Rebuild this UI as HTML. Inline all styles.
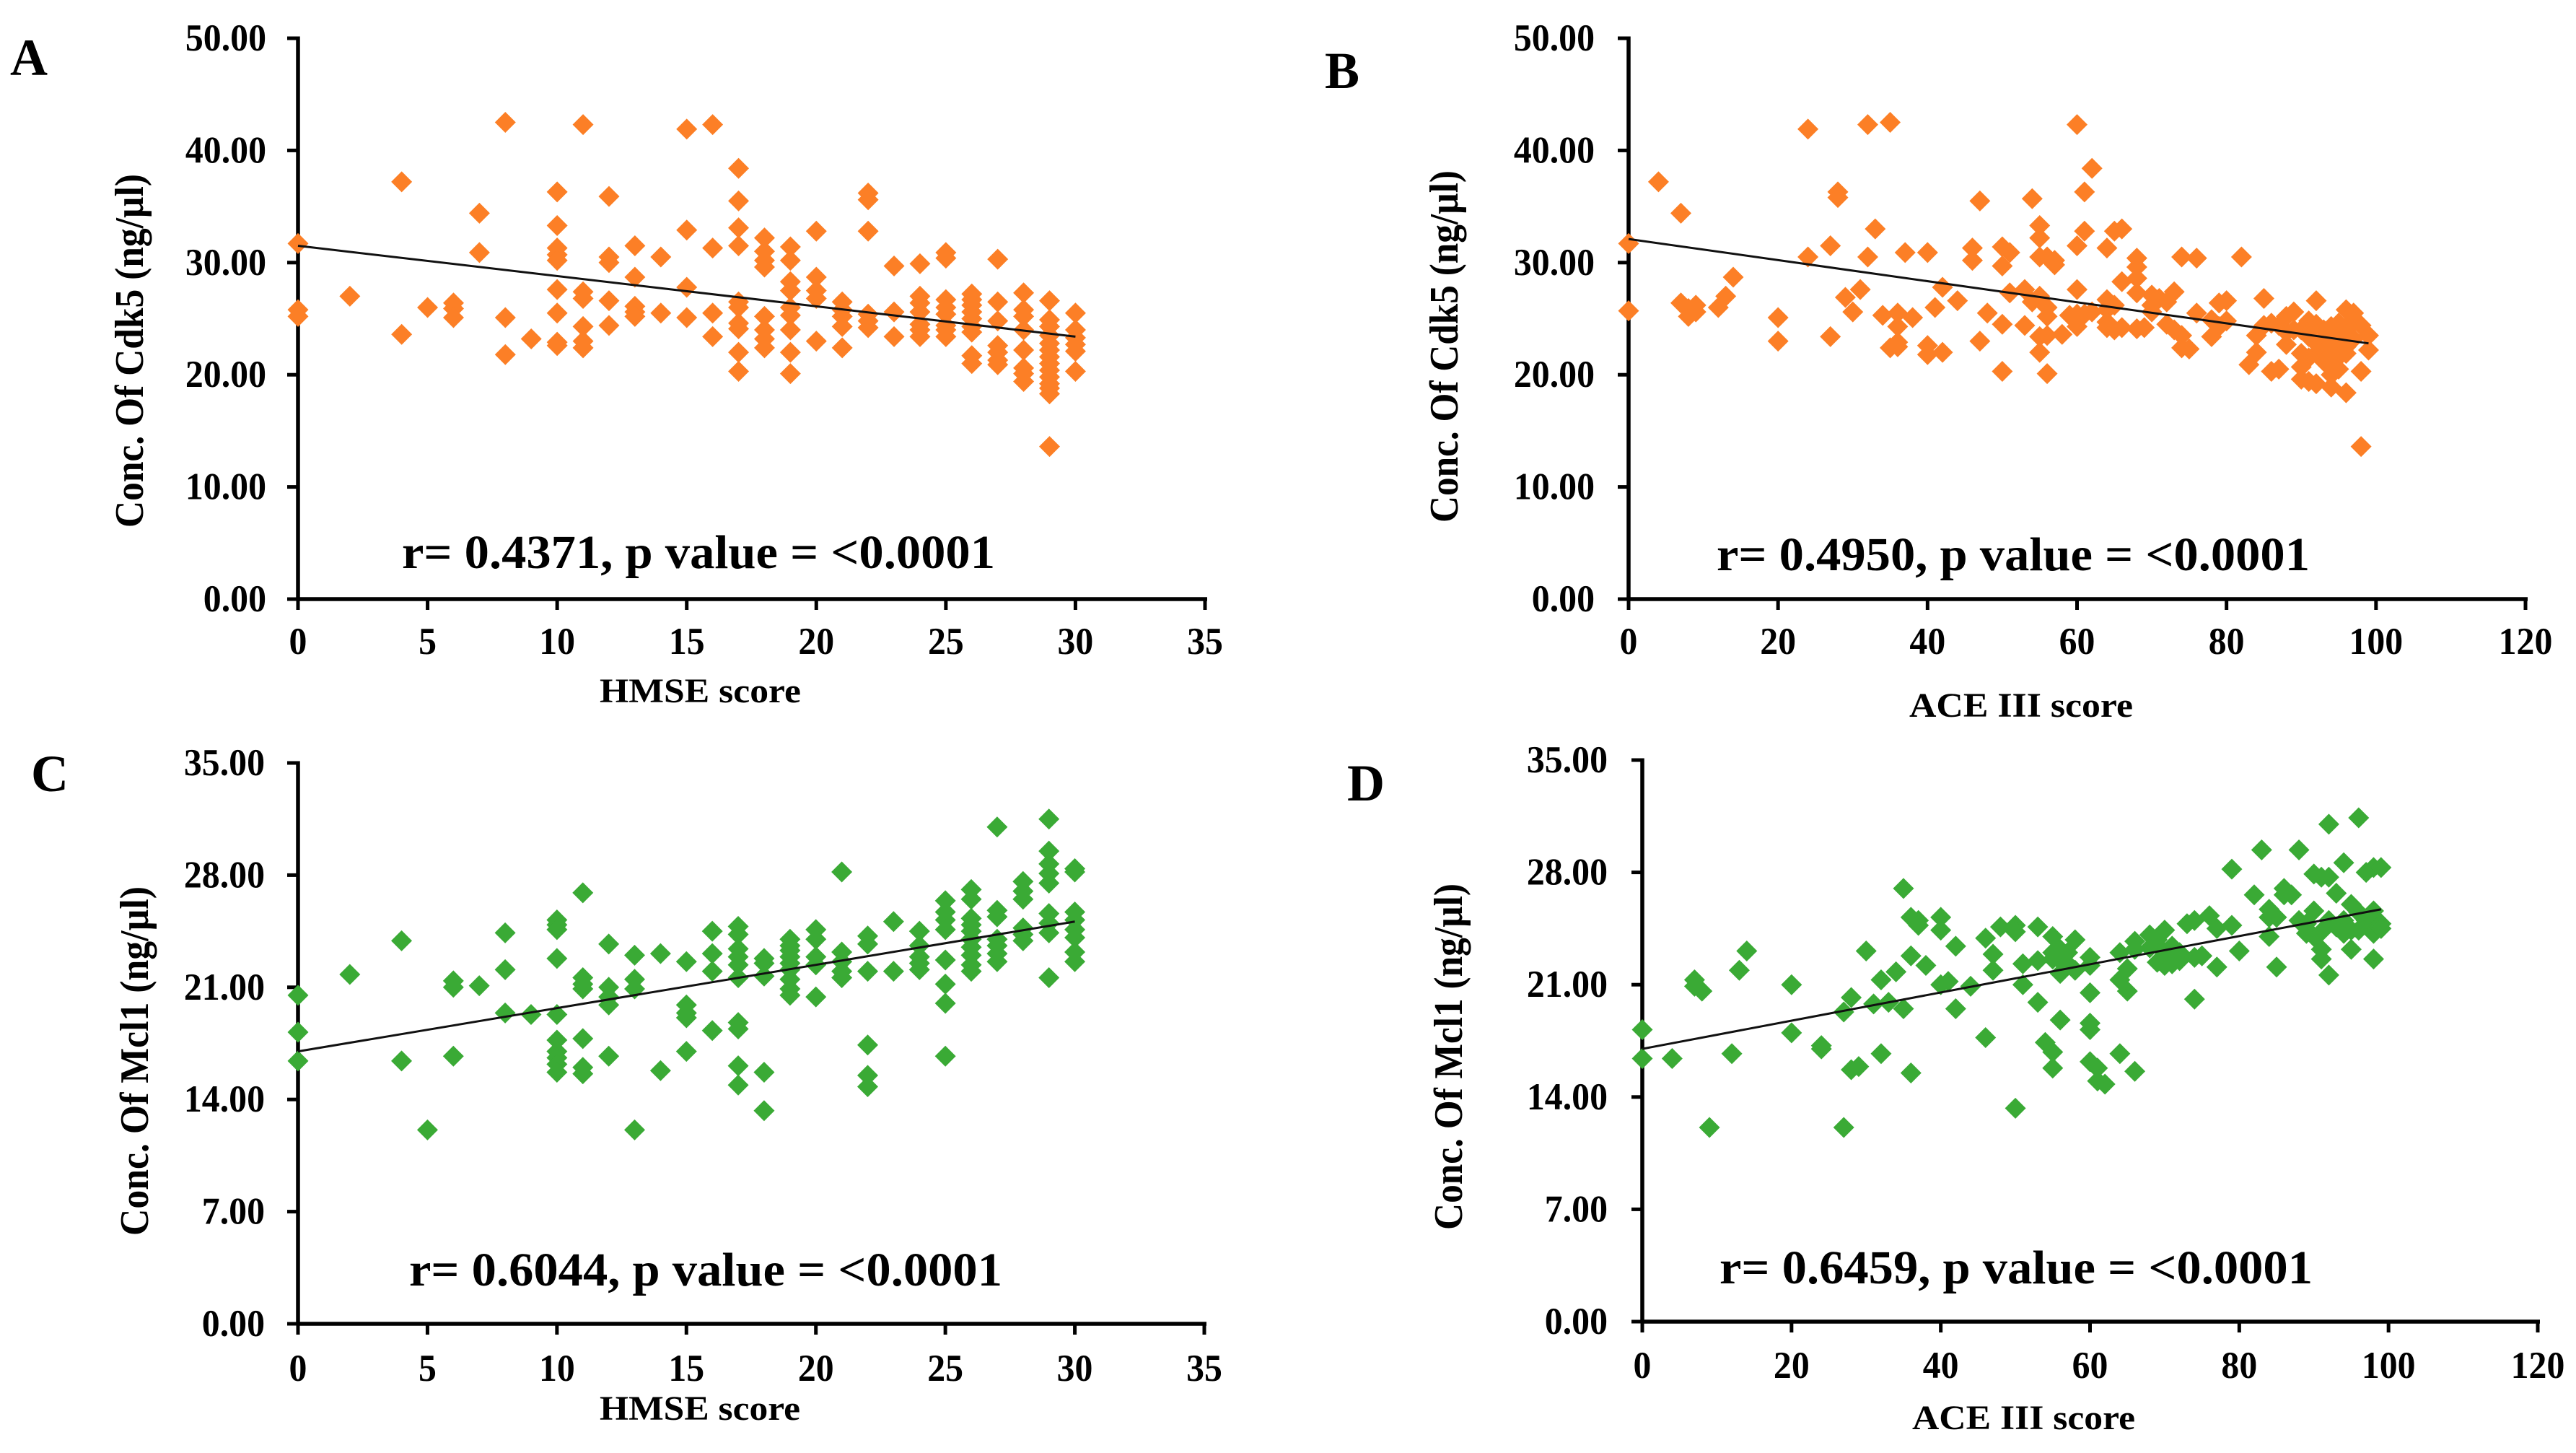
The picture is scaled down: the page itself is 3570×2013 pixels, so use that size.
<!DOCTYPE html>
<html lang="en">
<head>
<meta charset="utf-8">
<title>Cdk5 and Mcl1 versus HMSE and ACE III scores</title>
<style>
html,body{margin:0;padding:0;background:#fff;}
svg{display:block;}
text{font-family:"Liberation Serif",serif;font-weight:bold;fill:#000;}
.tick{font-size:53px;}
.title{font-size:48px;}
.ytitle{font-size:56px;}
.stat{font-size:66px;}
.letter{font-size:72px;}
</style>
</head>
<body>
<svg id="figure" xmlns="http://www.w3.org/2000/svg" width="3570" height="2013" viewBox="0 0 3570 2013">
  <rect width="3570" height="2013" fill="#ffffff"/>

  <g id="panel-a"></g>
  <g id="panel-b"></g>
  <g id="panel-c"></g>
  <g id="panel-d"></g>

  <text class="letter" x="14" y="104">A</text>
  <text class="letter" x="1836" y="122">B</text>
  <text class="letter" x="43" y="1096">C</text>
  <text class="letter" x="1867" y="1109">D</text>

  <text class="ytitle" transform="translate(198 731) rotate(-90)" textLength="490" lengthAdjust="spacingAndGlyphs">Conc. Of Cdk5 (ng/µl)</text>
  <text class="ytitle" transform="translate(2020 724) rotate(-90)" textLength="488" lengthAdjust="spacingAndGlyphs">Conc. Of Cdk5 (ng/µl)</text>
  <text class="ytitle" transform="translate(205 1712) rotate(-90)" textLength="484" lengthAdjust="spacingAndGlyphs">Conc. Of Mcl1 (ng/µl)</text>
  <text class="ytitle" transform="translate(2026 1704) rotate(-90)" textLength="480" lengthAdjust="spacingAndGlyphs">Conc. Of Mcl1 (ng/µl)</text>

  <text class="title" x="831" y="973" textLength="279" lengthAdjust="spacingAndGlyphs">HMSE score</text>
  <text class="title" x="2646" y="993" textLength="310" lengthAdjust="spacingAndGlyphs">ACE III score</text>
  <text class="title" x="831" y="1967" textLength="278" lengthAdjust="spacingAndGlyphs">HMSE score</text>
  <text class="title" x="2650" y="1980" textLength="309" lengthAdjust="spacingAndGlyphs">ACE III score</text>

  <text class="stat" x="557" y="787" textLength="822" lengthAdjust="spacingAndGlyphs">r= 0.4371, p value = &lt;0.0001</text>
  <text class="stat" x="2379" y="790" textLength="822" lengthAdjust="spacingAndGlyphs">r= 0.4950, p value = &lt;0.0001</text>
  <text class="stat" x="567" y="1781" textLength="822" lengthAdjust="spacingAndGlyphs">r= 0.6044, p value = &lt;0.0001</text>
  <text class="stat" x="2383" y="1778" textLength="822" lengthAdjust="spacingAndGlyphs">r= 0.6459, p value = &lt;0.0001</text>
</svg>

<script>
// Shared tick labels
const hmseTickLabels = ['0','5','10','15','20','25','30','35'];
const aceTickLabels = ['0','20','40','60','80','100','120'];
const cdk5TickLabels = ['0.00','10.00','20.00','30.00','40.00','50.00'];
const mcl1TickLabels = ['0.00','7.00','14.00','21.00','28.00','35.00'];

// Panel A: Cdk5 grouped by HMSE score
const panelAScores = [0,2,4,5,6,7,8,9,10,11,12,13,14,15,16,17,18,19,20,21,22,23,24,25,26,27,28,29,30];
const panelAConc = [
  [31.7,25.8,25.2],[27.0],[37.2,23.6],[26.0],[26.4,25.9,25.1],[34.4,30.9],[42.5,25.1,21.8],[23.2],
  [36.3,33.3,31.3,30.7,30.2,27.6,25.5,22.9,22.6],[42.3,27.4,26.8,24.3,23.0,22.4],[35.9,30.5,30.0,26.6,24.4],
  [31.5,28.7,26.1,25.6,25.2],[30.5,25.5],[41.9,32.9,27.8,25.1],[42.3,31.3,25.5,23.4],
  [38.4,35.5,33.1,31.5,26.5,26.0,24.6,24.1,22.0,20.3],[32.2,31.0,30.2,29.6,25.2,24.0,23.2,22.4],
  [31.4,30.2,28.3,27.5,26.0,25.3,24.0,22.0,20.1],[32.8,28.7,27.5,26.8,23.0],[26.5,25.8,25.2,24.3,22.4],
  [36.2,35.6,32.8,25.4,24.8,24.2],[29.7,25.6,23.4],[29.9,27.0,26.4,25.6,24.5,24.0,23.4],
  [30.9,30.4,26.7,26.0,25.4,24.4,24.0,23.4],[27.2,26.7,26.2,25.6,25.0,24.3,23.8,21.7,21.0],
  [30.3,26.5,24.8,22.6,22.0,21.3,20.9],[27.3,25.8,25.2,24.0,22.2,20.6,20.1,19.4],
  [26.6,24.9,24.3,23.5,22.8,22.2,21.6,21.0,20.4,19.8,19.2,18.8,18.3,13.6],[25.5,24.0,23.3,22.7,22.1,20.3]
];
const panelATrendX = [0,30];
const panelATrendY = [31.5,23.4];

// Panel B: Cdk5 grouped by ACE III score
const panelBScores = [0,4,7,8,9,12,13,14,20,24,27,28,29,30,31,32,33,34,35,36,37,38,40,41,42,44,46,47,48,50,51,53,54,55,56,57,58,59,60,61,62,64,65,66,68,69,70,71,72,73,74,75,76,78,79,80,82,83,84,85,86,87,88,89,90,91,92,93,94,95,96,97,98,99];
const panelBConc = [
  [31.7,25.7],[37.2],[34.4,26.4],[25.9,25.2],[26.2,25.6],[26.0],[27.0],[28.7],[25.1,23.0],[41.9,30.5],[31.5,23.4],[36.3,35.8],[26.9],[25.6],[27.6],[42.3,30.5],[33.0],[25.3],[42.5,22.4],[25.5,24.3,22.9,22.5],[30.9],[25.1],[30.9,22.6,21.8],[26.0],[27.8,22.0],[26.6],[31.3,30.2],[35.5,23.0],[25.5],
  [31.4,29.7,24.5,20.3],[30.9,27.3],[27.6,24.4],[35.7,26.5],[33.3,32.2,30.5,27.0,23.4,22.0],[30.5,26.0,25.2,23.5,20.1],[30.2,29.8],[23.6],[25.3],[42.3,31.5,27.6,25.4,24.8,24.3],[36.3,32.8,25.4],[38.4,25.6],[31.3,26.7,25.8,24.7,24.2],[32.8,26.2,24.0],[33.0,28.3,24.2],[30.4,29.6,28.6,27.3,24.1],[24.2],[27.1,26.2,25.6],[26.8],[26.5,24.5],[27.4,24.0],[30.5,23.5,22.4],[22.3],[30.4,25.5],[24.9,23.4],[26.4,24.3],[26.6,24.8],[30.5],[20.9],[23.5,22.0],[26.8,24.4],[24.6,20.3],[24.4,20.5],[25.2,23.8,22.7],[25.6,24.0],[24.0,21.9,20.7,19.6],[24.8,23.4,21.5,19.4],[26.6,24.5,22.8,21.9,19.2],[24.0,23.2,22.6,21.2],[24.3,22.3,20.6,20.0,18.9],[24.6,23.4,21.6,20.5],[25.8,24.0,22.5,21.9,18.4],[25.5,24.9,23.2],[24.4,20.3,13.6],[23.5,22.2]
];
const panelBTrendX = [0,99];
const panelBTrendY = [32.1,22.8];

// Panel C: Mcl1 grouped by HMSE score
const panelCScores = [0,2,4,5,6,7,8,9,10,11,12,13,14,15,16,17,18,19,20,21,22,23,24,25,26,27,28,29,30];
const panelCConc = [
  [20.5,18.2,16.4],[21.8],[23.9,16.4],[12.1],[21.4,21.0,16.7],[21.1],[24.4,22.1,19.4],[19.3],
  [25.2,24.9,24.6,22.8,19.3,17.7,17.0,16.6,16.2,15.7],[26.9,21.6,21.2,20.9,17.8,16.0,15.6],[23.7,21.0,20.4,19.9,16.7],
  [23.0,21.5,20.9,12.1],[23.1,15.8],[22.6,19.9,19.4,19.1,17.0],[24.5,23.1,22.0,18.3],
  [24.8,24.3,23.4,22.9,22.4,21.6,18.8,18.4,16.1,14.9],[22.8,22.5,21.7,15.7,13.3],
  [24.0,23.6,23.3,22.9,22.5,22.1,21.5,20.9,20.5],[24.6,24.0,22.9,22.4,20.4],[28.2,23.2,22.6,22.0,21.6],
  [24.2,23.7,22.0,17.4,15.5,14.8],[25.1,22.0],[24.5,23.6,22.9,22.5,22.1],[26.4,25.7,25.2,24.6,22.7,21.2,20.0,16.7],
  [27.1,26.5,25.3,24.9,24.5,24.0,23.5,23.0,22.4,22.0],[31.0,25.8,25.4,24.0,23.6,23.1,22.6],[27.6,27.0,26.5,24.7,24.3,23.9],
  [31.5,29.5,28.7,28.1,27.5,25.6,25.0,24.4,21.6],[28.4,28.2,25.7,25.2,24.6,24.1,23.2,22.6]
];
const panelCTrendX = [0,30];
const panelCTrendY = [17.0,25.1];

// Panel D: Mcl1 grouped by ACE III score
const panelDScores = [0,4,7,8,9,12,13,14,20,24,27,28,29,30,31,32,33,34,35,36,37,38,40,41,42,44,46,47,48,50,51,53,54,55,56,57,58,60,61,62,64,65,66,68,69,70,71,72,73,74,75,76,77,79,80,82,83,84,85,86,87,88,89,90,91,92,93,94,95,96,97,98,99];
const panelDConc = [
  [18.2,16.4],[16.4],[21.3,20.9],[20.6],[12.1],[16.7],[21.9],[23.1],[21.0,18.0],[17.2,17.0],[19.3,12.1],[20.2,15.7],[15.9],[23.1],[19.8],[21.3,16.7],[19.9],[21.8],[27.0,19.5],[25.2,22.8,15.5],[25.0,24.7],[22.2],[25.2,24.4,21.0],[21.2],[23.4,19.5],[20.9],[23.9,17.7],[22.9,21.9],[24.6],[24.7,24.3,13.3],[22.3,21.0],[24.6,22.5,19.9],[17.4],[24.0,23.0,22.6,16.8,15.8],[23.2,22.5,21.7,18.8],[23.0,22.3],[23.8,21.9],[22.7,22.2,20.5,18.6,18.2,16.2],[15.8,15.0],[14.8],[23.0,21.3,16.7],[22.0,20.6],[23.7,23.2,15.6],[24.1,23.3],[23.8,22.4],[24.4,23.0,22.2],[23.4,22.8,22.3],[23.0,22.5],[24.8],[25.0,22.7,20.1],[22.8],[25.3],[24.5,22.1],[28.2,24.7],[23.1],[26.6],[29.4],[25.7,25.2,24.0],[25.2,22.1],[27.0,26.6],[26.6],[29.4,25.0],[24.8,24.2],[27.9,25.6,24.0],[27.7,23.2,22.6,24.3],[31.0,27.7,25.0,21.6],[26.7,24.6],[28.6,25.0,24.2],[26.0,24.4,23.2],[31.4,25.5,24.4],[28.0,25.0],[28.3,25.6,24.2,22.6],[28.3,24.8,24.5]
];
const panelDTrendX = [0,99];
const panelDTrendY = [17.0,25.7];

const SVG_NS = 'http://www.w3.org/2000/svg';
const ORANGE = '#fc7f26';
const GREEN = '#3aaa35';

function make(tag, attrs, parent) {
  const el = document.createElementNS(SVG_NS, tag);
  for (const k in attrs) el.setAttribute(k, attrs[k]);
  parent.appendChild(el);
  return el;
}

function condense(text) {
  const w = text.getComputedTextLength();
  text.setAttribute('textLength', (w * 0.94).toFixed(1));
  text.setAttribute('lengthAdjust', 'spacingAndGlyphs');
}

function drawPanel(cfg) {
  const root = document.getElementById(cfg.id);
  const xMax = parseFloat(cfg.xLabels[cfg.xLabels.length - 1]);
  const yMax = parseFloat(cfg.yLabels[cfg.yLabels.length - 1]);
  const sx = v => cfg.x0 + (v / xMax) * (cfg.x1 - cfg.x0);
  const sy = v => cfg.y0 + (v / yMax) * (cfg.y1 - cfg.y0);

  // Axes
  const yAxis = make('line', {x1: cfg.x0, x2: cfg.x0, y1: cfg.y1 - 2.5, y2: cfg.y0, stroke: '#000', 'stroke-width': 5.5}, root);
  
  
  const xAxis = make('line', {x1: cfg.x0 - 2, x2: cfg.x1 + 3, y1: cfg.y0, y2: cfg.y0, stroke: '#000', 'stroke-width': 5.5}, root);
  
  

  // Y ticks
  cfg.yLabels.forEach(label => {
    const v = parseFloat(label);
    const tick = make('line', {x1: cfg.x0 - 15, x2: cfg.x0, y1: sy(v), y2: sy(v), stroke: '#000', 'stroke-width': 5}, root);
    
    
    const text = make('text', {class: 'tick', x: cfg.yLabelRight, y: sy(v) + 17, 'text-anchor': 'end'}, root);
    text.textContent = label;
    condense(text);
    
    
  });

  // X ticks
  cfg.xLabels.forEach(label => {
    const v = parseFloat(label);
    const tick = make('line', {x1: sx(v), x2: sx(v), y1: cfg.y0, y2: cfg.y0 + 15, stroke: '#000', 'stroke-width': 5}, root);
    
    
    const text = make('text', {class: 'tick', x: sx(v), y: cfg.xLabelY, 'text-anchor': 'middle'}, root);
    text.textContent = label;
    condense(text);
    
    
  });

  // Points
  cfg.scores.forEach((score, i) => {
    cfg.conc[i].forEach(value => {
      const cx = sx(score), cy = sy(value);
      const hw = 14.5, hh = 14.5;
      const point = make('polygon', {
        points: (cx - hw) + ',' + cy + ' ' + cx + ',' + (cy - hh) + ' ' + (cx + hw) + ',' + cy + ' ' + cx + ',' + (cy + hh),
        fill: cfg.color
      }, root);
      
      
    });
  });

  // Trend line
  const trend = make('line', {
    x1: sx(cfg.trendX[0]), y1: sy(cfg.trendY[0]),
    x2: sx(cfg.trendX[1]), y2: sy(cfg.trendY[1]),
    stroke: '#111', 'stroke-width': 3
  }, root);
  
  
}

drawPanel({id:'panel-a', x0:413, x1:1670, y0:830, y1:53, yLabelRight:369, xLabelY:906, xLabels:hmseTickLabels, yLabels:cdk5TickLabels, scores:panelAScores, conc:panelAConc, trendX:panelATrendX, trendY:panelATrendY, color:ORANGE});
drawPanel({id:'panel-b', x0:2257, x1:3500, y0:830, y1:53, yLabelRight:2210, xLabelY:906, xLabels:aceTickLabels, yLabels:cdk5TickLabels, scores:panelBScores, conc:panelBConc, trendX:panelBTrendX, trendY:panelBTrendY, color:ORANGE});
drawPanel({id:'panel-c', x0:413, x1:1669, y0:1834, y1:1057, yLabelRight:367, xLabelY:1913, xLabels:hmseTickLabels, yLabels:mcl1TickLabels, scores:panelCScores, conc:panelCConc, trendX:panelCTrendX, trendY:panelCTrendY, color:GREEN});
drawPanel({id:'panel-d', x0:2276, x1:3517, y0:1831, y1:1053, yLabelRight:2228, xLabelY:1909, xLabels:aceTickLabels, yLabels:mcl1TickLabels, scores:panelDScores, conc:panelDConc, trendX:panelDTrendX, trendY:panelDTrendY, color:GREEN});
</script>
</body>
</html>
